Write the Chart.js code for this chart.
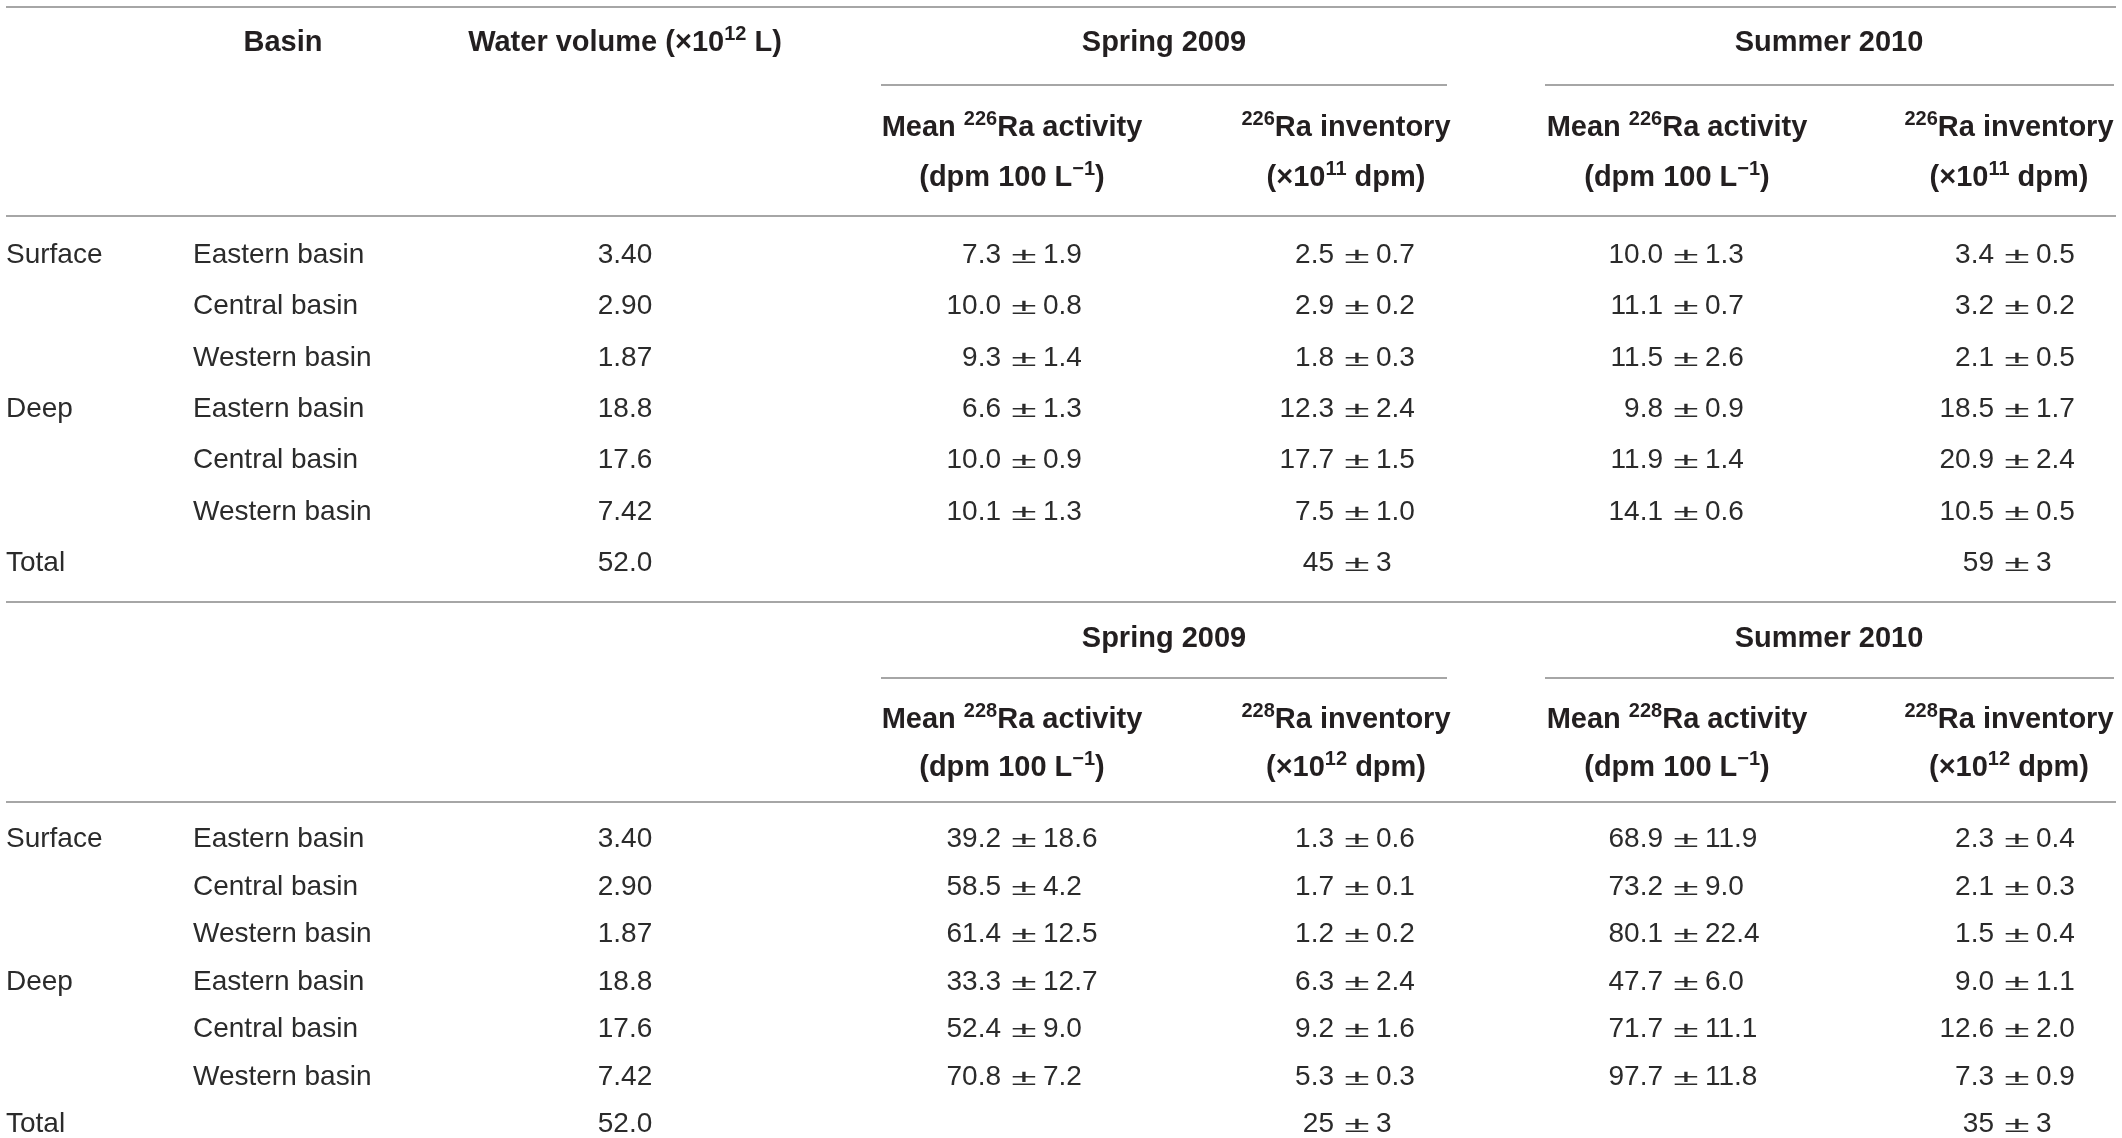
<!DOCTYPE html>
<html>
<head>
<meta charset="utf-8">
<script src="https://cdn.jsdelivr.net/npm/chart.js@4/dist/chart.umd.min.js"></script>
<style>
  html, body { margin: 0; padding: 0; background: #fff; }
  canvas { display: block; }
</style>
</head>
<body>
<canvas id="table" width="2122" height="1138"></canvas>
<script>
// table values
const groups = ["Surface", "", "", "Deep", "", "", "Total"];
const basins = ["Eastern basin", "Central basin", "Western basin", "Eastern basin", "Central basin", "Western basin", ""];
const waterVolume = [3.40, 2.90, 1.87, 18.8, 17.6, 7.42, 52.0];

const ra226SpringAct = [7.3, 10.0, 9.3, 6.6, 10.0, 10.1, null];
const ra226SpringActErr = [1.9, 0.8, 1.4, 1.3, 0.9, 1.3, null];
const ra226SpringInv = [2.5, 2.9, 1.8, 12.3, 17.7, 7.5, 45];
const ra226SpringInvErr = [0.7, 0.2, 0.3, 2.4, 1.5, 1.0, 3];
const ra226SummerAct = [10.0, 11.1, 11.5, 9.8, 11.9, 14.1, null];
const ra226SummerActErr = [1.3, 0.7, 2.6, 0.9, 1.4, 0.6, null];
const ra226SummerInv = [3.4, 3.2, 2.1, 18.5, 20.9, 10.5, 59];
const ra226SummerInvErr = [0.5, 0.2, 0.5, 1.7, 2.4, 0.5, 3];

const ra228SpringAct = [39.2, 58.5, 61.4, 33.3, 52.4, 70.8, null];
const ra228SpringActErr = [18.6, 4.2, 12.5, 12.7, 9.0, 7.2, null];
const ra228SpringInv = [1.3, 1.7, 1.2, 6.3, 9.2, 5.3, 25];
const ra228SpringInvErr = [0.6, 0.1, 0.2, 2.4, 1.6, 0.3, 3];
const ra228SummerAct = [68.9, 73.2, 80.1, 47.7, 71.7, 97.7, null];
const ra228SummerActErr = [11.9, 9.0, 22.4, 6.0, 11.1, 11.8, null];
const ra228SummerInv = [2.3, 2.1, 1.5, 9.0, 12.6, 7.3, 35];
const ra228SummerInvErr = [0.4, 0.3, 0.4, 1.1, 2.0, 0.9, 3];

const seasons = ["Spring 2009", "Summer 2010"];
const topHeads = ["Basin", "Water volume (×10^{12} L)"];
const actHead = iso => "Mean ^{" + iso + "}Ra activity";
const invHead = iso => "^{" + iso + "}Ra inventory";
const actUnit = "(dpm 100 L^{−1})";
const invUnit = exp => "(×10^{" + exp + "} dpm)";

// layout (canvas pixels)
const W = 2122, H = 1138;
const col = { group: 6, basin: 193, basinHead: 283, vol: 625,
  sprAct: 1024, sprInv: 1357, sumAct: 1686, sumInv: 2017,
  sprActHead: 1012, sprInvHead: 1346, sumActHead: 1677, sumInvHead: 2009,
  sprHead: 1164, sumHead: 1829 };
const ruleX = [6, 2116];
const underX = [[881, 1447], [1545, 2114]];
const pmStyle = { size: 22, stretch: 2.1, gapL: 23, gapR: 19 };
const blocks = [
  { top: 7, head: 41, under: 85, sub: [126, 176], rule: 216, row0: 253, step: 51.3, iso: "226", exp: "11",
    act: [ra226SpringAct, ra226SpringActErr, ra226SummerAct, ra226SummerActErr],
    inv: [ra226SpringInv, ra226SpringInvErr, ra226SummerInv, ra226SummerInvErr], full: true },
  { top: 602, head: 637, under: 678, sub: [718, 766], rule: 802, row0: 837, step: 47.5, iso: "228", exp: "12",
    act: [ra228SpringAct, ra228SpringActErr, ra228SummerAct, ra228SummerActErr],
    inv: [ra228SpringInv, ra228SpringInvErr, ra228SummerInv, ra228SummerInvErr], full: false }
];

const ink = "#231f20";
const bodyInk = "#2b2b2b";
const ruleColor = "#a6a6a6";
const family = "'Liberation Sans', Arial, Helvetica, sans-serif";
const bodyFont = { size: 28, weight: "normal", color: bodyInk };
const headFont = { size: 29, weight: "bold", color: ink };
const last = groups.length - 1;

function pm(v, e, isTotal) {
  if (v === null) return "";
  const d = isTotal ? 0 : 1;
  return v.toFixed(d) + " ± " + e.toFixed(d);
}

const datasets = [];
function rule(x0, x1, y, w) {
  datasets.push({ type: "line", data: [{ x: x0, y: y }, { x: x1, y: y }],
    borderColor: ruleColor, borderWidth: w, pointRadius: 0, showLine: true, clip: false });
}
function cells(points, texts, align, font) {
  datasets.push({ type: "scatter", data: points, texts: texts, align: align, font: font, pointRadius: 0 });
}

blocks.forEach(b => {
  rule(ruleX[0], ruleX[1], b.top, 2);
  underX.forEach(u => rule(u[0], u[1], b.under, 2));
  rule(ruleX[0], ruleX[1], b.rule, 2);

  // header rows
  const hp = [], ht = [];
  if (b.full) {
    hp.push({ x: col.basinHead, y: b.head }, { x: col.vol, y: b.head });
    ht.push(topHeads[0], topHeads[1]);
  }
  hp.push({ x: col.sprHead, y: b.head }, { x: col.sumHead, y: b.head });
  ht.push(seasons[0], seasons[1]);
  [col.sprActHead, col.sumActHead].forEach(x => {
    hp.push({ x: x, y: b.sub[0] }, { x: x, y: b.sub[1] });
    ht.push(actHead(b.iso), actUnit);
  });
  [col.sprInvHead, col.sumInvHead].forEach(x => {
    hp.push({ x: x, y: b.sub[0] }, { x: x, y: b.sub[1] });
    ht.push(invHead(b.iso), invUnit(b.exp));
  });
  cells(hp, ht, "center", headFont);

  // body rows
  const ys = groups.map((g, i) => b.row0 + i * b.step);
  cells(ys.map(y => ({ x: col.group, y: y })), groups, "left", bodyFont);
  cells(ys.map(y => ({ x: col.basin, y: y })), basins, "left", bodyFont);
  cells(ys.map(y => ({ x: col.vol, y: y })), waterVolume.map(v => v.toPrecision(3)), "center", bodyFont);
  cells(ys.map(y => ({ x: col.sprAct, y: y })), b.act[0].map((v, i) => pm(v, b.act[1][i], i === last)), "pm", bodyFont);
  cells(ys.map(y => ({ x: col.sumAct, y: y })), b.act[2].map((v, i) => pm(v, b.act[3][i], i === last)), "pm", bodyFont);
  cells(ys.map(y => ({ x: col.sprInv, y: y })), b.inv[0].map((v, i) => pm(v, b.inv[1][i], i === last)), "pm", bodyFont);
  cells(ys.map(y => ({ x: col.sumInv, y: y })), b.inv[2].map((v, i) => pm(v, b.inv[3][i], i === last)), "pm", bodyFont);
});

// split "a^{b}c" into plain / superscript pieces
function pieces(str) {
  const out = [];
  const re = /\^\{([^}]*)\}/g;
  let at = 0, m;
  while ((m = re.exec(str))) {
    if (m.index > at) out.push({ t: str.slice(at, m.index), sup: false });
    out.push({ t: m[1], sup: true });
    at = re.lastIndex;
  }
  if (at < str.length) out.push({ t: str.slice(at), sup: false });
  return out;
}

const cellText = {
  id: "cellText",
  afterDatasetsDraw(chart) {
    const c = chart.ctx;
    c.save();
    c.textBaseline = "alphabetic";
    chart.data.datasets.forEach((ds, di) => {
      if (!ds.texts) return;
      const f = ds.font;
      const main = f.weight + " " + f.size + "px " + family;
      const small = f.weight + " " + Math.round(f.size * 0.68) + "px " + family;
      c.fillStyle = f.color;
      chart.getDatasetMeta(di).data.forEach((pt, j) => {
        const s = ds.texts[j];
        if (!s) return;
        const base = pt.y + f.size * 0.716 / 2;

        if (ds.align === "pm") {
          // value ± error, lined up on the ± sign
          const [lhs, rhs] = s.split(" ± ");
          c.font = main;
          c.textAlign = "right";
          c.fillText(lhs, pt.x - pmStyle.gapL, base);
          c.textAlign = "left";
          c.fillText(rhs, pt.x + pmStyle.gapR, base);
          c.save();
          c.translate(pt.x, base);
          c.scale(pmStyle.stretch, 1);
          c.font = f.weight + " " + pmStyle.size + "px " + family;
          c.textAlign = "center";
          c.fillText("±", 0, 0);
          c.restore();
          return;
        }

        c.textAlign = "left";
        const parts = pieces(s);
        const widths = parts.map(p => { c.font = p.sup ? small : main; return c.measureText(p.t).width; });
        const total = widths.reduce((a, b) => a + b, 0);
        let x = pt.x;
        if (ds.align === "center") x -= total / 2;
        parts.forEach((p, i) => {
          c.font = p.sup ? small : main;
          c.fillText(p.t, x, p.sup ? base - f.size * 0.4 : base);
          x += widths[i];
        });
      });
    });
    c.restore();
  }
};

new Chart(document.getElementById("table"), {
  type: "scatter",
  data: { datasets: datasets },
  options: {
    responsive: false,
    animation: false,
    devicePixelRatio: 1,
    layout: { padding: 0 },
    events: [],
    plugins: { legend: { display: false }, tooltip: { enabled: false } },
    scales: {
      x: { type: "linear", min: 0, max: W, display: false },
      y: { type: "linear", min: 0, max: H, reverse: true, display: false }
    }
  },
  plugins: [cellText]
});
</script>
</body>
</html>
